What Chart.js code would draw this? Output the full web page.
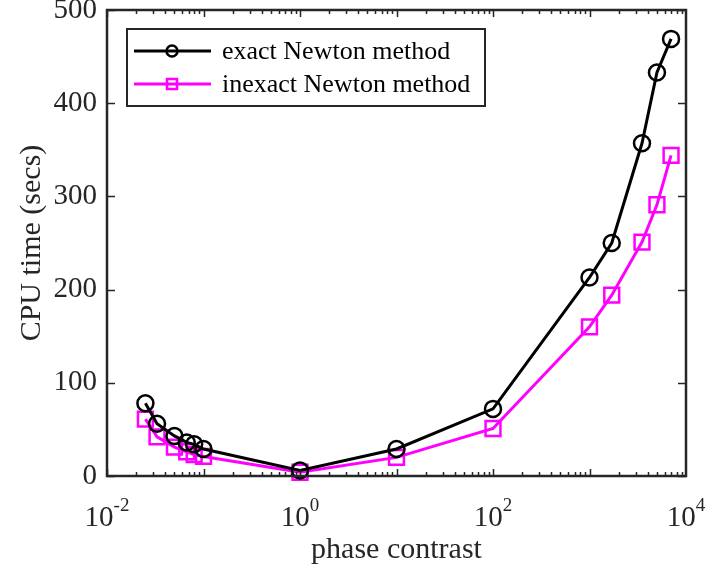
<!DOCTYPE html>
<html>
<head>
<meta charset="utf-8">
<script src="https://cdn.jsdelivr.net/npm/chart.js@4/dist/chart.umd.min.js"></script>
<style>
  html, body { margin: 0; padding: 0; background: #fff; }
  #wrap { width: 707px; height: 573px; }
</style>
</head>
<body>
<div id="wrap"><canvas id="cpuChart" width="707" height="573"></canvas></div>
<script>
// values
const phaseContrast = [0.025, 0.033, 0.05, 0.067, 0.08, 0.1, 1, 10, 100, 1000, 1700, 3500, 5000, 7000];
const exactTimes = [78, 56, 43, 36, 34, 29, 6, 29, 72, 213, 250, 357, 433, 469];
const inexactTimes = [61, 42, 31, 26, 23, 21, 4, 20, 51, 160, 194, 251, 291, 344];
const seriesNames = ["exact Newton method", "inexact Newton method"];
const xTickExps = [-2, 0, 2, 4];
const yTicks = [0, 100, 200, 300, 400, 500];

const FONT = "'Liberation Serif', 'Times New Roman', serif";
const axisColor = "#262626";

const toPoints = (ys) => phaseContrast.map((x, i) => ({ x: x, y: ys[i] }));

const frameAndTicks = {
  id: "frameAndTicks",
  afterDraw(chart) {
    const { ctx, chartArea: a } = chart;
    const xs = chart.scales.x;
    const ys = chart.scales.y;
    ctx.save();
    ctx.strokeStyle = axisColor;
    ctx.lineWidth = 1.5;
    // log ticks top and bottom, pointing inwards
    for (let e = -2; e < 4; e++) {
      for (let m = 1; m < 10; m++) {
        const px = Math.round(xs.getPixelForValue(m * Math.pow(10, e))) + 0.5;
        const len = m === 1 ? 7 : 4;
        ctx.beginPath();
        ctx.moveTo(px, a.bottom);
        ctx.lineTo(px, a.bottom - len);
        ctx.moveTo(px, a.top);
        ctx.lineTo(px, a.top + len);
        ctx.stroke();
      }
    }
    yTicks.forEach((v) => {
      const py = Math.round(ys.getPixelForValue(v)) + 0.5;
      ctx.beginPath();
      ctx.moveTo(a.left, py);
      ctx.lineTo(a.left + 8, py);
      ctx.moveTo(a.right, py);
      ctx.lineTo(a.right - 8, py);
      ctx.stroke();
    });
    ctx.lineWidth = 2.5;
    ctx.strokeRect(a.left, a.top, a.width, a.height);

    // x tick labels as 10 with a raised exponent
    ctx.fillStyle = axisColor;
    ctx.textBaseline = "alphabetic";
    xTickExps.forEach((e) => {
      const px = xs.getPixelForValue(Math.pow(10, e));
      const base = "10";
      const exp = e < 0 ? "-" + Math.abs(e) : String(e);
      ctx.font = "29px " + FONT;
      const wb = ctx.measureText(base).width;
      ctx.font = "19px " + FONT;
      const we = ctx.measureText(exp).width;
      const x0 = px - (wb + we) / 2;
      ctx.font = "29px " + FONT;
      ctx.textAlign = "left";
      ctx.fillText(base, x0, a.bottom + 50);
      ctx.font = "19px " + FONT;
      ctx.fillText(exp, x0 + wb, a.bottom + 35);
    });

    // legend box inside the axes
    const lx = a.left + 20, ly = a.top + 19, lw = 358, lh = 77;
    ctx.fillStyle = "#fff";
    ctx.fillRect(lx, ly, lw, lh);
    ctx.lineWidth = 2;
    ctx.strokeStyle = axisColor;
    ctx.strokeRect(lx, ly, lw, lh);
    chart.data.datasets.forEach((ds, i) => {
      const cy = ly + 22 + i * 33;
      ctx.strokeStyle = ds.borderColor;
      ctx.lineWidth = 3;
      ctx.beginPath();
      ctx.moveTo(lx + 7, cy);
      ctx.lineTo(lx + 84, cy);
      ctx.stroke();
      ctx.lineWidth = 2.5;
      ctx.beginPath();
      if (ds.pointStyle === "rect") {
        ctx.rect(lx + 40, cy - 5, 10, 10);
      } else {
        ctx.arc(lx + 45, cy, 5.5, 0, Math.PI * 2);
      }
      ctx.stroke();
      ctx.fillStyle = "#000";
      ctx.font = "26px " + FONT;
      ctx.textAlign = "left";
      ctx.textBaseline = "middle";
      ctx.fillText(ds.label, lx + 95, cy + 1);
    });
    ctx.restore();
  }
};

new Chart(document.getElementById("cpuChart"), {
  type: "scatter",
  data: {
    datasets: [
      {
        label: seriesNames[0],
        data: toPoints(exactTimes),
        showLine: true,
        borderColor: "#000000",
        backgroundColor: "rgba(0,0,0,0)",
        borderWidth: 3,
        pointStyle: "circle",
        pointRadius: 8,
        pointBorderWidth: 2.5,
        clip: false
      },
      {
        label: seriesNames[1],
        data: toPoints(inexactTimes),
        showLine: true,
        borderColor: "#ff00ff",
        backgroundColor: "rgba(0,0,0,0)",
        borderWidth: 3,
        pointStyle: "rect",
        pointRadius: 10.5,
        pointBorderWidth: 2.5,
        clip: false
      }
    ]
  },
  options: {
    responsive: false,
    animation: false,
    events: [],
    layout: { autoPadding: false, padding: { left: 0, right: 21, top: 10, bottom: 0 } },
    plugins: {
      legend: { display: false },
      tooltip: { enabled: false }
    },
    scales: {
      x: {
        type: "logarithmic",
        min: 0.01,
        max: 10000,
        grid: { display: false, drawTicks: false },
        border: { display: false },
        ticks: { display: false },
        title: {
          display: true,
          text: "phase contrast",
          color: axisColor,
          font: { family: FONT, size: 30 },
          padding: { top: 0, bottom: 5 }
        },
        afterFit(scale) {
          scale.height = 97;
          scale.paddingLeft = 0;
          scale.paddingRight = 0;
        }
      },
      y: {
        min: 0,
        max: 500,
        grid: { display: false, drawTicks: false },
        border: { display: false },
        ticks: {
          stepSize: 100,
          padding: 10,
          color: axisColor,
          font: { family: FONT, size: 29, lineHeight: 0.6 }
        },
        afterBuildTicks(scale) {
          scale.ticks = yTicks.map((v) => ({ value: v }));
        },
        title: {
          display: true,
          text: "CPU time (secs)",
          color: axisColor,
          font: { family: FONT, size: 30 },
          padding: { top: 14, bottom: 0 }
        },
        afterFit(scale) {
          scale.width = 107;
          scale.paddingTop = 0;
          scale.paddingBottom = 0;
        }
      }
    }
  },
  plugins: [frameAndTicks]
});
</script>
</body>
</html>
